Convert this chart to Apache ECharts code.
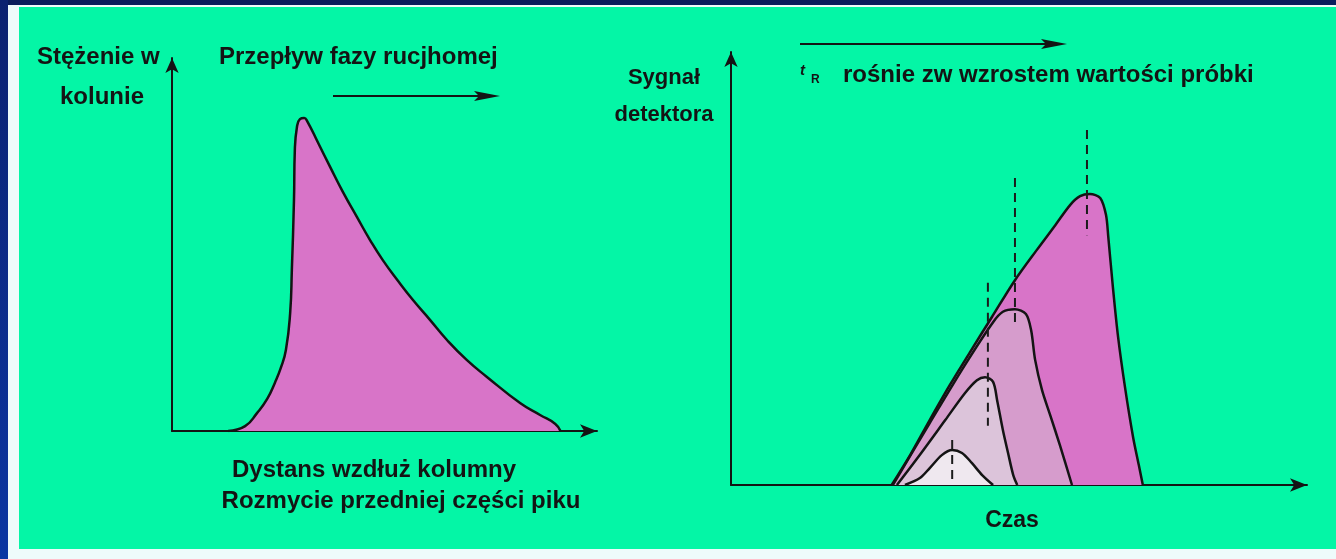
<!DOCTYPE html>
<html>
<head>
<meta charset="utf-8">
<script src="https://cdn.jsdelivr.net/npm/echarts@6/dist/echarts.min.js"></script>
<style>
  body { margin: 0; background: #eefbfb; }
  #bgTop { position: absolute; left: 0; top: 0; width: 1336px; height: 5px; background: #0a1d5c; }
  #bgLeft { position: absolute; left: 0; top: 0; width: 8px; height: 559px; background: linear-gradient(#0b2270, #0a36a2); }
  #panel { position: absolute; left: 19px; top: 7px; width: 1317px; height: 542px; background: #04f6a6; }
  #main { position: absolute; left: 0; top: 0; width: 1336px; height: 559px; }
</style>
</head>
<body>
<div id="bgTop"></div>
<div id="bgLeft"></div>
<div id="panel"></div>
<div id="main"></div>
<script>
// left: one tailing band in the column
var leftPeak = [
  [13.2, 0], [17.2, 1.3], [20.0, 4.8], [22.4, 8.6], [24.2, 12.9], [25.6, 16.9],
  [26.8, 21.7], [27.8, 31.6], [28.2, 43.2], [28.7, 61.9], [28.9, 75.3], [29.4, 81.5],
  [30.1, 83.6], [31.1, 83.9], [31.8, 83.1], [34.4, 77.2], [37.2, 70.8], [40.2, 64.1],
  [43.5, 57.4], [46.6, 51.2], [49.6, 45.8], [53.2, 40.2], [56.7, 35.1], [60.7, 29.8],
  [64.7, 24.4], [69.4, 19.0], [74.1, 14.5], [81.9, 7.5], [86.6, 4.3], [90.2, 1.9], [91.4, 0]
];

// right: detector signal for growing sample size
var bigPeak = [
  [27.9, 0], [31.1, 6.9], [34.5, 15.0], [38.0, 23.1], [41.5, 30.7], [45.3, 38.8],
  [49.3, 47.3], [53.1, 54.3], [56.3, 60.0], [58.9, 64.7], [60.6, 66.7], [62.3, 67.2],
  [64.1, 66.3], [65.1, 62.4], [65.5, 57.3], [66.3, 45.7], [67.2, 34.2], [68.4, 22.6],
  [69.8, 11.1], [70.8, 4.6], [71.5, 0]
];
var midPeak = [
  [28.1, 0], [34.5, 14.3], [40.6, 27.7], [45.5, 37.6], [47.2, 40.0], [49.3, 40.6],
  [51.2, 39.5], [52.1, 35.8], [52.8, 28.9], [54.0, 21.9], [55.4, 16.2], [57.1, 9.2], [59.2, 0]
];
var smallPeak = [
  [28.8, 0], [32.8, 7.0], [37.2, 15.0], [40.6, 21.2], [42.7, 24.2], [44.1, 24.9],
  [45.5, 23.8], [46.2, 19.6], [47.2, 12.7], [48.1, 7.4], [49.0, 2.3], [49.7, 0]
];
var tinyPeak = [
  [30.2, 0], [32.8, 1.6], [34.5, 3.9], [36.6, 6.9], [38.4, 8.1], [40.1, 7.4],
  [41.8, 5.1], [43.6, 2.3], [45.5, 0]
];
var peakColors = ["#d874c8", "#d69ccc", "#dcc4da", "#efe8ef"];

// retention time markers
var dashBig = [[61.8, 82.0], [61.8, 57.7]];
var dashMid = [[49.3, 70.9], [49.3, 37.0]];
var dashSmall = [[44.6, 46.7], [44.6, 13.7]];
var dashTiny = [[38.4, 10.4], [38.4, 0]];

var fontBold = 'bold 24px "Liberation Sans", Arial, sans-serif';
var ink = "#141414";

function axis(idx, type) {
  return {
    type: "value", gridIndex: idx, min: 0, max: 100,
    axisLine: { show: true, symbol: ["none", "arrow"], symbolSize: type == "x" ? [10, 17] : [10, 15],
      lineStyle: { color: ink, width: 2 } },
    axisTick: { show: false }, axisLabel: { show: false }, splitLine: { show: false }
  };
}

function peak(data, idx, color, smooth) {
  return {
    type: "line", xAxisIndex: idx, yAxisIndex: idx, data: data,
    showSymbol: false, smooth: smooth || 0.3,
    lineStyle: { color: ink, width: 2.5 },
    areaStyle: { color: color, opacity: 1 }
  };
}

function dash(data) {
  return {
    type: "line", xAxisIndex: 1, yAxisIndex: 1, data: data, z: 5,
    showSymbol: false,
    lineStyle: { color: "#1b1b1b", width: 2, type: [9, 6] }
  };
}

function label(text, x, y, align, font) {
  return {
    type: "text", z: 10,
    style: { text: text, x: x, y: y, font: font || fontBold, fill: ink,
      textAlign: align, align: align, textVerticalAlign: "middle", verticalAlign: "middle" }
  };
}

function arrow(x1, x2, y) {
  return {
    type: "group", z: 10,
    children: [
      { type: "line", shape: { x1: x1, y1: y, x2: x2 - 20, y2: y }, style: { stroke: ink, lineWidth: 2 } },
      { type: "polygon", shape: { points: [[x2, y], [x2 - 26, y - 5], [x2 - 21, y], [x2 - 26, y + 5]] },
        style: { fill: ink } }
    ]
  };
}

var chart = echarts.init(document.getElementById("main"));
chart.setOption({
  animation: false,
  backgroundColor: "transparent",
  grid: [
    { left: 172, top: 58, width: 425, height: 373 },
    { left: 731, top: 52, width: 576, height: 433 }
  ],
  xAxis: [axis(0, "x"), axis(1, "x")],
  yAxis: [axis(0, "y"), axis(1, "y")],
  series: [
    peak(leftPeak, 0, peakColors[0], 0.5),
    peak(bigPeak, 1, peakColors[0]),
    peak(midPeak, 1, peakColors[1]),
    peak(smallPeak, 1, peakColors[2]),
    peak(tinyPeak, 1, peakColors[3]),
    dash(dashBig), dash(dashMid), dash(dashSmall), dash(dashTiny)
  ],
  graphic: [
    label("Stężenie w", 37, 57, "left"),
    label("kolunie", 102, 97, "center"),
    label("Przepływ fazy rucjhomej", 219, 57, "left"),
    arrow(333, 500, 96),
    label("Dystans wzdłuż kolumny", 374, 470, "center"),
    label("Rozmycie przedniej części piku", 401, 501, "center"),
    label("Sygnał", 664, 78, "center", 'bold 22px "Liberation Sans", Arial, sans-serif'),
    label("detektora", 664, 115, "center", 'bold 22px "Liberation Sans", Arial, sans-serif'),
    arrow(800, 1067, 44),
    label("t", 800, 71, "left", 'italic bold 15px "Liberation Sans", Arial, sans-serif'),
    label("R", 811, 80, "left", 'bold 12px "Liberation Sans", Arial, sans-serif'),
    label("rośnie zw wzrostem wartości próbki", 843, 75, "left"),
    label("Czas", 1012, 521, "center", 'bold 23px "Liberation Sans", Arial, sans-serif')
  ]
});
</script>
</body>
</html>
